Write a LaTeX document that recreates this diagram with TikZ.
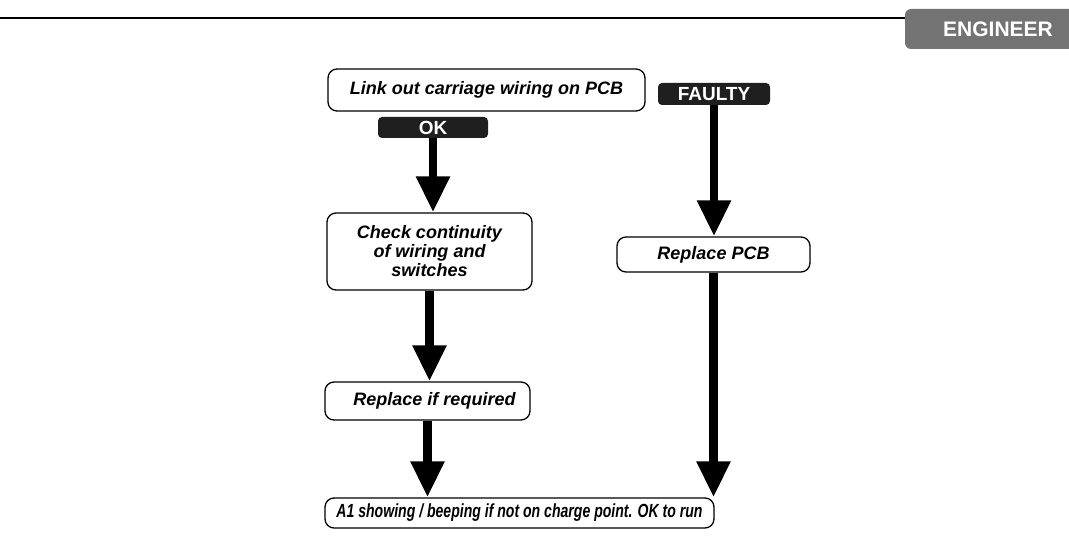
\documentclass[tikz,border=0pt]{standalone}
\usepackage{fontspec}
\setmainfont{Liberation Sans}
\usepackage{graphicx}
\usetikzlibrary{arrows.meta}
\begin{document}
\begin{tikzpicture}[x=1pt,y=-1pt,
  stepbox/.style={draw=black, line width=1.3pt, rounded corners=9pt, fill=white,
    inner sep=0pt, align=center, font=\fontsize{18}{19}\selectfont\bfseries\itshape},
  tag/.style={fill=black!88, rounded corners=4pt, text=white, inner sep=0pt,
    font=\fontsize{19}{19}\selectfont\bfseries},
  flow/.style={line width=8.5pt, -{Triangle[width=32pt,length=36pt]}}
]
\useasboundingbox (0,0) rectangle (1069,548);

% header rule and section tab
\node[fill=black!55, rounded corners=6pt, minimum width=186pt, minimum height=40pt,
  inner sep=0pt, text=white, font=\fontsize{21}{21}\selectfont\bfseries]
  (engineer) at (998,29) {ENGINEER};
\coordinate (rulestart) at (0,18);
\draw[line width=1.5pt] (rulestart) -- (rulestart -| engineer.west);

% boxes
\node[stepbox, minimum width=317pt, minimum height=42pt] (link) at (486.5,90)
  {Link out carriage wiring on PCB};
\node[tag, minimum width=112pt, minimum height=22pt] (faulty) at (714,94) {FAULTY};
\node[tag, minimum width=110pt, minimum height=21pt] (ok) at (433,127.5) {OK};
\node[stepbox, minimum width=205pt, minimum height=77pt] (check) at (429.5,251.5)
  {Check continuity\\of wiring and\\switches};
\node[stepbox, minimum width=193pt, minimum height=35pt] (pcb) at (713.5,254.5)
  {Replace PCB};
\node[stepbox, minimum width=205pt, minimum height=38pt] (repl) at (427.5,401)
  {\hspace*{14pt}Replace if required};
\node[stepbox, minimum width=389pt, minimum height=30pt] (final) at (519.5,513)
  {\scalebox{0.74}[1]{\fontsize{19}{19}\selectfont\bfseries\itshape A1 showing / beeping if not on charge point. OK to run}};

% flow arrows
\draw[flow] (ok.south) -- (ok.south |- check.north);
\draw[flow] (check.south) -- (check.south |- repl.north);
\draw[flow] (repl.south) -- (repl.south |- final.north);
\draw[flow] (faulty.south) -- (faulty.south |- pcb.north);
\draw[flow] (pcb.south) -- (pcb.south |- final.north);
\end{tikzpicture}
\end{document}
